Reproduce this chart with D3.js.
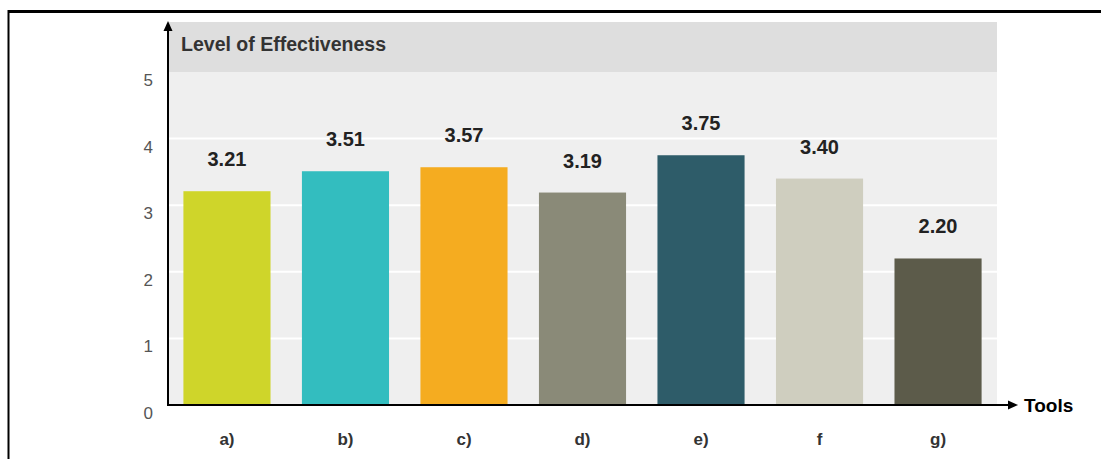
<!DOCTYPE html>
<html>
<head>
<meta charset="utf-8">
<script src="https://cdn.jsdelivr.net/npm/d3@7"></script>
<style>
  html, body { margin: 0; padding: 0; background: #fff; }
  svg { display: block; }
  text { font-family: "Liberation Sans", Arial, sans-serif; }
</style>
</head>
<body>
<svg id="chart" width="1101" height="459"></svg>
<script>
// Effectiveness score per tool
const categories = ["a)", "b)", "c)", "d)", "e)", "f", "g)"];
const values = [3.21, 3.51, 3.57, 3.19, 3.75, 3.40, 2.20];
const colors = ["#cfd52a", "#33bdbf", "#f5ac20", "#8a8a78", "#2e5c69", "#cfcebf", "#5c5b4a"];
const yTicks = [0, 1, 2, 3, 4, 5];

const svg = d3.select("#chart");

const plot = { left: 168, right: 997, top: 72, bottom: 405, header: 22 };

const x = d3.scaleBand()
  .domain(categories)
  .range([plot.left, plot.right])
  .paddingInner(0.265)
  .paddingOuter(0.13);

const y = d3.scaleLinear()
  .domain([0, 5])
  .range([plot.bottom, plot.top]);

// outer frame (top and left edges)
svg.append("line").attr("x1", 8).attr("x2", 1101).attr("y1", 11.5).attr("y2", 11.5)
  .attr("stroke", "#000").attr("stroke-width", 3);
svg.append("line").attr("x1", 8.5).attr("x2", 8.5).attr("y1", 10).attr("y2", 459)
  .attr("stroke", "#000").attr("stroke-width", 2);

// header band and plot background
svg.append("rect").attr("x", plot.left).attr("y", plot.header)
  .attr("width", plot.right - plot.left).attr("height", plot.top - plot.header)
  .attr("fill", "#dedede");
svg.append("rect").attr("x", plot.left).attr("y", plot.top)
  .attr("width", plot.right - plot.left).attr("height", plot.bottom - plot.top)
  .attr("fill", "#efefef");

svg.append("text")
  .attr("x", 181).attr("y", 51)
  .attr("font-size", 20).attr("font-weight", "bold").attr("fill", "#333")
  .attr("textLength", 205).attr("lengthAdjust", "spacingAndGlyphs")
  .text("Level of Effectiveness");

// horizontal gridlines
svg.append("g").selectAll("line")
  .data(yTicks.filter(d => d > 0 && d < 5))
  .join("line")
  .attr("x1", plot.left).attr("x2", plot.right)
  .attr("y1", d => y(d)).attr("y2", d => y(d))
  .attr("stroke", "#fff").attr("stroke-width", 2);

// y tick labels
svg.append("g").selectAll("text")
  .data(yTicks)
  .join("text")
  .attr("x", 153)
  .attr("y", d => y(d) + 14)
  .attr("text-anchor", "end")
  .attr("font-size", 17)
  .attr("fill", "#555")
  .text(d => d);

// bars
svg.append("g").selectAll("rect")
  .data(values)
  .join("rect")
  .attr("x", (d, i) => x(categories[i]))
  .attr("y", d => y(d))
  .attr("width", x.bandwidth())
  .attr("height", d => plot.bottom - y(d))
  .attr("fill", (d, i) => colors[i]);

// value labels
svg.append("g").selectAll("text")
  .data(values)
  .join("text")
  .attr("x", (d, i) => x(categories[i]) + x.bandwidth() / 2)
  .attr("y", d => y(d) - 25)
  .attr("text-anchor", "middle")
  .attr("font-size", 20)
  .attr("font-weight", "bold")
  .attr("fill", "#222")
  .text(d => d.toFixed(2));

// category labels
svg.append("g").selectAll("text")
  .data(categories)
  .join("text")
  .attr("x", d => x(d) + x.bandwidth() / 2)
  .attr("y", 445)
  .attr("text-anchor", "middle")
  .attr("font-size", 17)
  .attr("font-weight", "bold")
  .attr("fill", "#333")
  .text(d => d);

// axes with arrowheads
const axis = svg.append("g").attr("stroke", "#000").attr("fill", "#000");
axis.append("line")
  .attr("x1", plot.left).attr("x2", plot.left)
  .attr("y1", plot.bottom + 1).attr("y2", 28)
  .attr("stroke-width", 2);
axis.append("path")
  .attr("d", `M${plot.left},${plot.header - 1} L${plot.left - 4.5},${plot.header + 9} L${plot.left + 4.5},${plot.header + 9} Z`)
  .attr("stroke", "none");
axis.append("line")
  .attr("x1", plot.left - 1).attr("x2", 1010)
  .attr("y1", plot.bottom).attr("y2", plot.bottom)
  .attr("stroke-width", 2);
axis.append("path")
  .attr("d", `M1018,${plot.bottom} L1008,${plot.bottom - 4.5} L1008,${plot.bottom + 4.5} Z`)
  .attr("stroke", "none");

svg.append("text")
  .attr("x", 1024).attr("y", plot.bottom + 7)
  .attr("font-size", 19).attr("font-weight", "bold").attr("fill", "#000")
  .text("Tools");
</script>
</body>
</html>
